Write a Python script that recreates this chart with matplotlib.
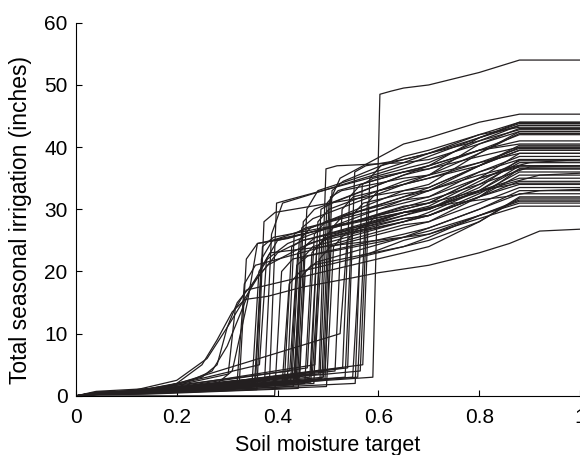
import matplotlib.pyplot as plt

plt.rcParams['font.family'] = ['Liberation Sans', 'DejaVu Sans']

# curves with a sharp jump: soil moisture where irrigation kicks in and the
# seasonal totals before/after the jump, at 0.65, 0.7, 0.8 and at the plateau
jump_x = [0.308, 0.326, 0.330, 0.355, 0.362, 0.365, 0.370, 0.390, 0.400, 0.420,
          0.425, 0.430, 0.432, 0.435, 0.437, 0.440, 0.440, 0.443, 0.445, 0.447,
          0.465, 0.470, 0.472, 0.475, 0.478, 0.480, 0.494, 0.497, 0.500, 0.500,
          0.503, 0.530, 0.535, 0.540, 0.545, 0.555, 0.560, 0.565, 0.570, 0.575,
          0.595, 0.380, 0.450, 0.490, 0.460, 0.520, 0.360, 0.415, 0.488]
level_early = [0.8, 1.0, 0.6, 0.5, 0.7, 0.4, 0.9, 0.6, 0.0, 0.7,
               0.5, 1.2, 0.6, 0.8, 0.4, 0.9, 0.5, 0.7, 0.6, 0.3,
               0.8, 0.6, 0.5, 0.7, 0.4, 0.9, 0.6, 0.5, 0.8, 0.6,
               0.4, 0.7, 0.5, 0.6, 0.8, 0.7, 0.5, 0.6, 0.9, 0.7,
               0.6, 0.5, 0.7, 0.6, 0.5, 0.8, 0.6, 0.4, 0.6]
level_before = [3.5, 2.5, 2.0, 1.5, 2.0, 1.0, 5.0, 2.5, 0.0, 3.0,
                2.0, 4.0, 2.5, 3.0, 1.5, 3.5, 2.0, 2.5, 1.8, 1.2,
                4.5, 3.0, 2.2, 3.5, 2.0, 5.0, 2.8, 3.0, 4.0, 2.5,
                1.5, 10.0, 4.5, 3.0, 4.5, 3.0, 2.0, 3.0, 4.0, 5.0,
                3.0, 2.0, 3.0, 2.5, 2.0, 4.0, 1.5, 1.8, 3.5]
level_after = [14, 18, 22, 20, 24, 28, 22, 31, 20, 24,
               26, 21, 23, 25, 19, 27, 22, 28, 24, 20,
               26, 24, 28, 22, 30, 25, 31, 32, 27, 33,
               24, 25, 32, 29, 36, 22.5, 34, 27, 31, 35,
               48.5, 26, 30, 31, 23, 30, 22, 18, 36.5]
level_shoulder = [17, 21, 24.5, 23, 25.5, 29.5, 25, 31.5, 22, 25,
                  27, 22.5, 24.5, 27, 21, 28.5, 24, 30, 25.5, 21.5,
                  28, 25.5, 30, 24, 31, 27, 35, 33, 29, 34.5,
                  26, 27, 34, 31, 37, 23, 35, 29, 33, 37,
                  49, 31, 33, 33, 25, 32, 25, 20, 37]
level_065 = [23, 27.5, 29.5, 25.5, 29.5, 33, 30, 36.5, 26, 28.5,
             31, 25.5, 29, 33, 24, 34, 28, 35.5, 29.5, 25.5,
             32, 28, 34.5, 27, 35.5, 30.5, 40.5, 35, 31.5, 38.5,
             28.5, 29.5, 36, 32.5, 38, 25, 36, 30, 34, 38,
             49.5, 37, 37.5, 36, 28, 34, 32, 24, 37.5]
level_07 = [24, 28, 30, 26, 30, 33.5, 31, 37.5, 27, 29,
            32, 26.5, 30, 34, 25, 35.5, 29, 37, 30.5, 27,
            33, 29, 35.5, 28, 36.5, 31, 41.5, 35.5, 32, 39.5,
            29, 30, 36.5, 33, 39, 26, 37, 31, 35, 39,
            50, 38.5, 39, 37, 29.5, 35, 33.5, 25.5, 38]
level_08 = [28, 32, 33.5, 29, 33, 37, 35, 41, 30, 32,
            36, 29, 34, 39, 28, 40.5, 32.5, 41.5, 34.5, 30,
            37, 32, 39, 31, 39.5, 35, 44, 37.5, 35, 42,
            32, 33, 38.5, 36, 41, 28.5, 39.5, 33, 37, 41.5,
            52, 41.5, 42, 39.5, 33, 37.5, 37, 29, 40.5]
level_final = [32, 36.5, 38, 31.5, 35, 40, 39, 43.5, 33, 34.5,
               38.5, 31, 37.5, 42.5, 31.8, 43, 36, 44, 37.8, 32.5,
               39.5, 34, 42.2, 33.5, 40.5, 37, 45.3, 39, 36.8, 43.2,
               35.5, 36.5, 40, 38, 42.8, 30.5, 42, 34.2, 39.5, 43.8,
               54, 43.5, 44, 41, 37, 39.8, 40.3, 31.3, 42.5]

# curves that climb gradually from around 0.2 instead of jumping
gradual_x = [
    [0, 0.10, 0.20, 0.25, 0.28, 0.31, 0.335, 0.38, 0.45, 0.55, 0.60, 0.70, 0.80, 0.86, 0.92, 1.0],
    [0, 0.10, 0.20, 0.26, 0.30, 0.33, 0.36, 0.40, 0.45, 0.55, 0.65, 0.75, 0.85, 0.92, 1.0],
    [0, 0.12, 0.22, 0.27, 0.30, 0.33, 0.35, 0.38, 0.42, 0.50, 0.60, 0.70, 0.80, 0.90, 1.0],
    [0, 0.15, 0.25, 0.28, 0.30, 0.32, 0.34, 0.38, 0.45, 0.55, 0.65, 0.75, 0.85, 0.92, 1.0],
    [0, 0.15, 0.28, 0.31, 0.34, 0.36, 0.42, 0.45, 0.55, 0.70, 0.80, 0.90, 1.0],
]
gradual_y = [
    [0, 0.5, 2.0, 5.0, 9.0, 13.5, 15.5, 16.0, 17.5, 19.0, 19.8, 21.0, 23.0, 24.5, 26.5, 26.8],
    [0, 0.6, 2.5, 6.0, 11.0, 15.0, 19.0, 23.0, 25.0, 27.0, 29.0, 31.5, 34.0, 35.5, 35.8],
    [0, 0.8, 2.2, 4.0, 8.0, 14.0, 18.0, 22.0, 24.5, 27.0, 30.0, 33.0, 35.5, 37.5, 38.0],
    [0, 1.0, 3.0, 5.0, 11.0, 15.0, 17.0, 21.0, 24.0, 27.0, 29.5, 31.0, 32.0, 33.0, 33.2],
    [0, 0.8, 2.0, 4.0, 15.0, 24.5, 25.3, 26.0, 28.0, 31.5, 34.0, 36.8, 37.0],
]

fig = plt.figure(figsize=(5.8, 4.55), dpi=100)
ax = fig.add_axes([0.131, 0.130, 0.869, 0.820])

line_kw = dict(color='#231f20', lw=0.9, solid_joinstyle='round')

for i, j in enumerate(jump_x):
    xs = [0, 0.04, 0.15, j - 0.006, j + 0.008, j + 0.03, 0.65, 0.7, 0.8, 0.88, 1.0]
    ys = [0, level_early[i] * 0.6, level_early[i], level_before[i], level_after[i],
          level_shoulder[i], level_065[i], level_07[i], level_08[i],
          level_final[i], level_final[i]]
    ax.plot(xs, ys, **line_kw)

for xs, ys in zip(gradual_x, gradual_y):
    ax.plot(xs, ys, **line_kw)

ax.set_xlim(0, 1)
ax.set_ylim(0, 60)
ax.set_xticks([0, 0.2, 0.4, 0.6, 0.8, 1])
ax.set_xticklabels(['0', '0.2', '0.4', '0.6', '0.8', '1'])
ax.set_yticks(range(0, 61, 10))
ax.spines['top'].set_visible(False)
ax.spines['right'].set_visible(False)
ax.tick_params(direction='in', length=4, width=0.8, labelsize=15)
ax.tick_params(axis='x', pad=9)
ax.tick_params(axis='y', pad=6)
ax.set_xlabel('Soil moisture target', fontsize=15.5)
ax.set_ylabel('Total seasonal irrigation (inches)', fontsize=16.5)
ax.xaxis.set_label_coords(0.5, -0.105)
ax.yaxis.set_label_coords(-0.088, 0.47)

fig.savefig('out.png', dpi=100)
